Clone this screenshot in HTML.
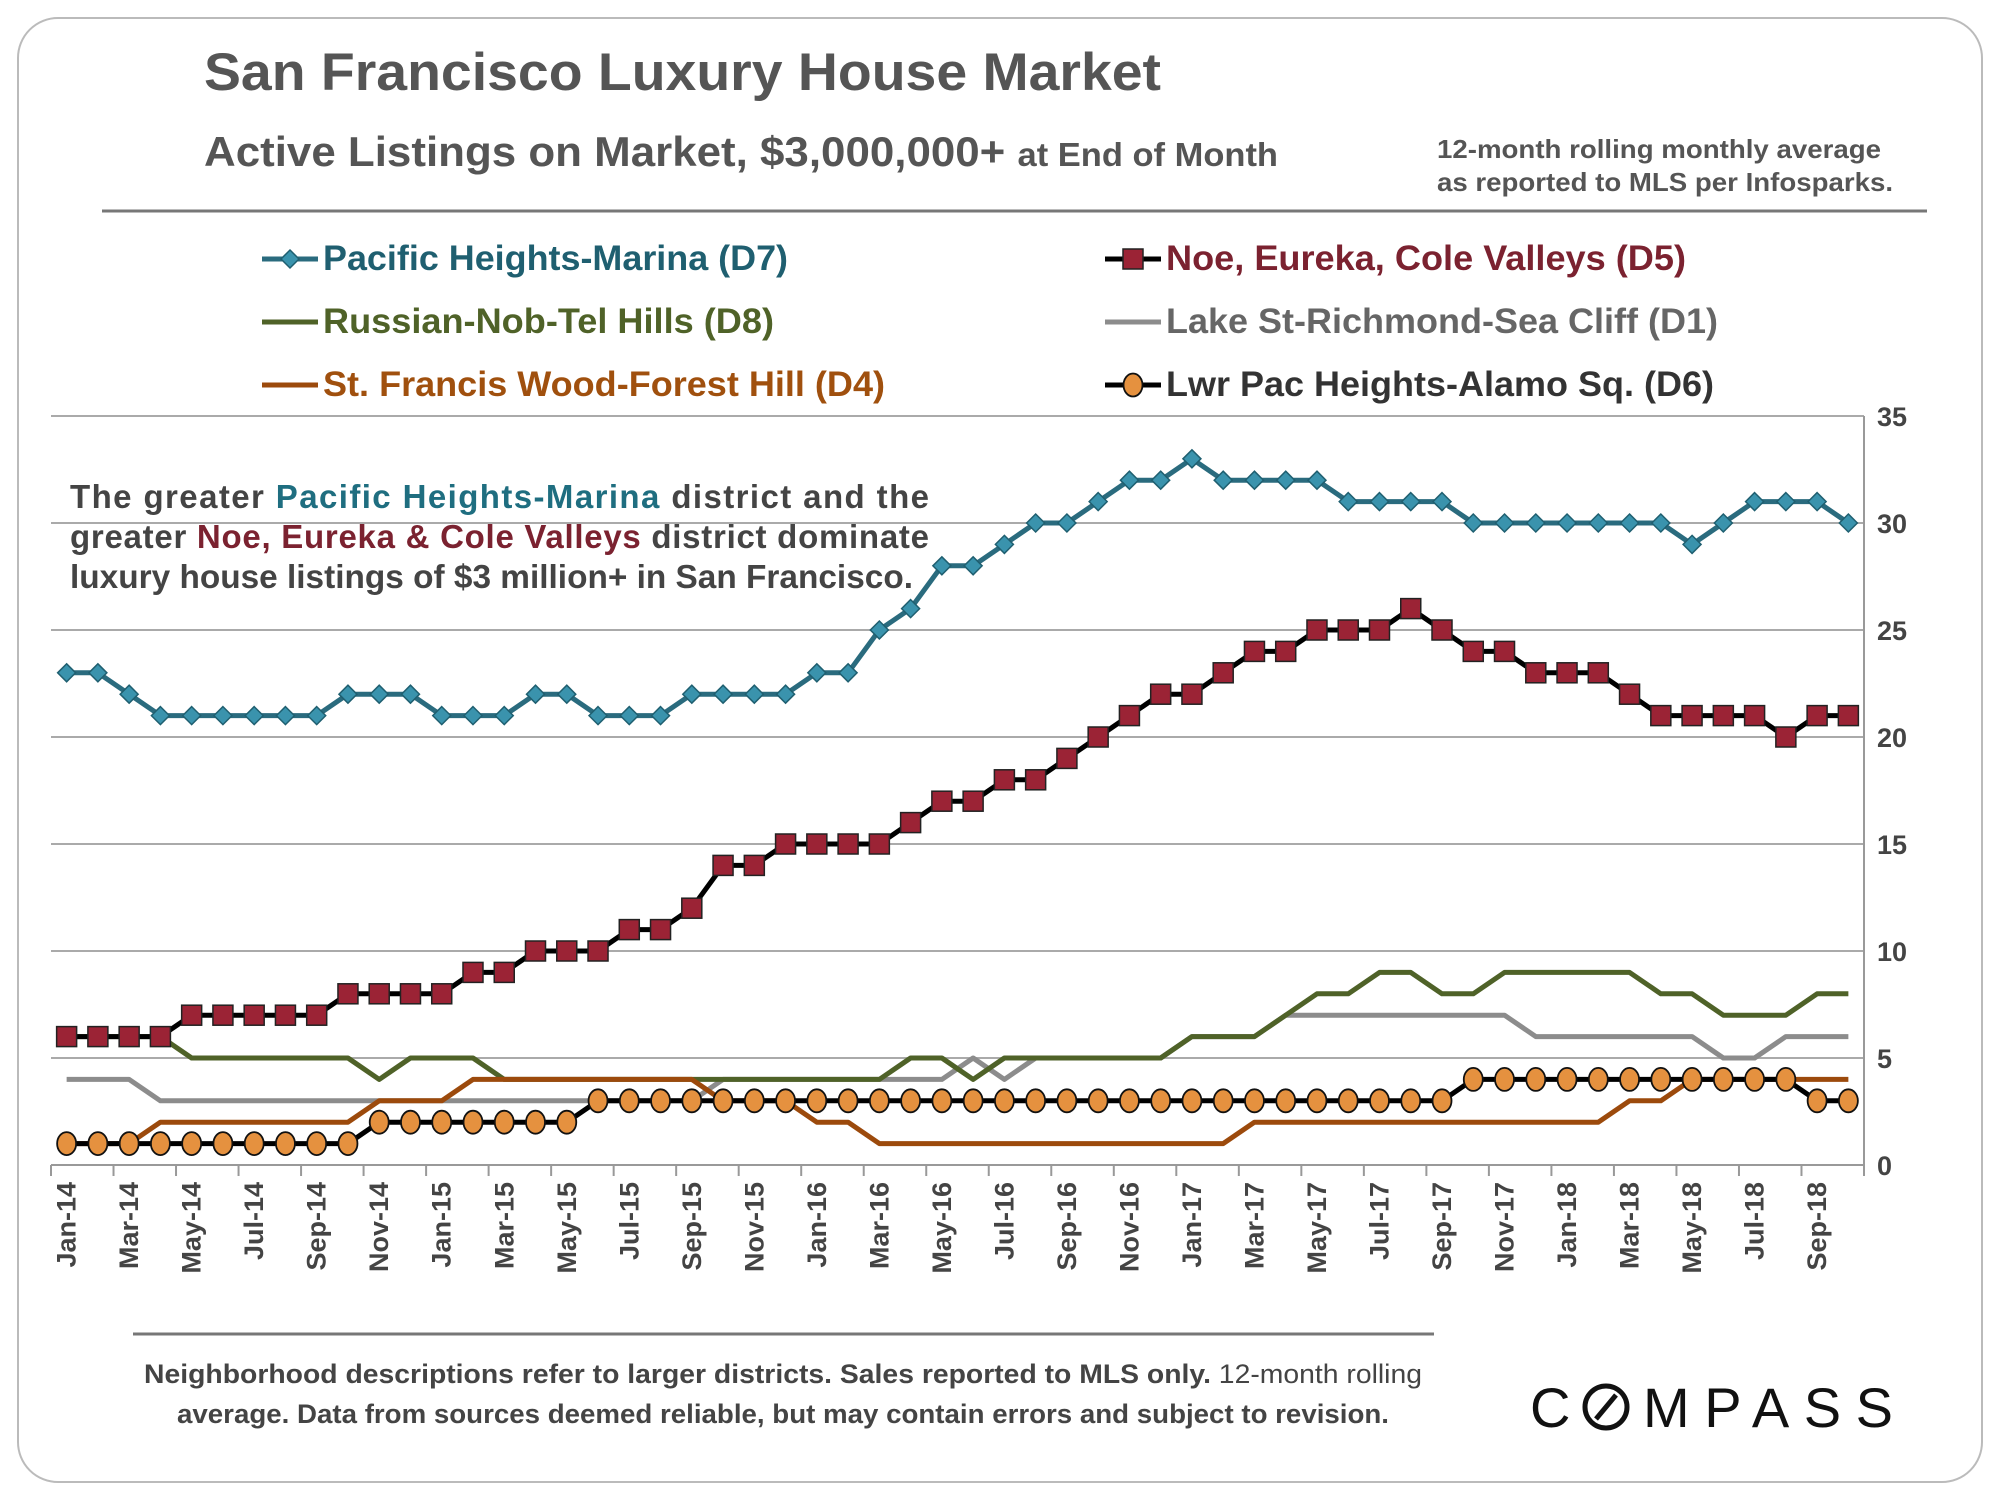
<!DOCTYPE html>
<html><head><meta charset="utf-8"><style>
body{margin:0;background:#fff;}
svg text{font-family:"Liberation Sans",Arial,sans-serif;font-weight:bold;}
svg text.norm, svg tspan.norm{font-weight:normal;}
</style></head><body>
<svg id="chart" width="2000" height="1500" viewBox="0 0 2000 1500" xmlns="http://www.w3.org/2000/svg">
<rect x="18" y="18" width="1964" height="1464" rx="40" fill="#fff" stroke="#bbb" stroke-width="2"/>
<text x="204" y="90" font-size="53" fill="#555" textLength="957" lengthAdjust="spacingAndGlyphs">San Francisco Luxury House Market</text>
<text x="204" y="166" font-size="42" fill="#555" textLength="1074" lengthAdjust="spacingAndGlyphs">Active Listings on Market, $3,000,000+ <tspan font-size="33">at End of Month</tspan></text>
<text x="1437" y="158" font-size="26" fill="#555" textLength="444" lengthAdjust="spacingAndGlyphs">12-month rolling monthly average</text>
<text x="1437" y="191" font-size="26" fill="#555" textLength="456" lengthAdjust="spacingAndGlyphs">as reported to MLS per Infosparks.</text>
<line x1="102" y1="211" x2="1927" y2="211" stroke="#777" stroke-width="3"/>
<g id="legend"></g>
<g id="grid"></g>
<g id="axes"></g>
<g id="series"></g>
<g font-size="33" fill="#444">
<text x="70" y="508" textLength="859" lengthAdjust="spacing">The greater <tspan fill="#1f6e80">Pacific Heights-Marina</tspan> district and the</text>
<text x="70" y="548" textLength="859" lengthAdjust="spacing">greater <tspan fill="#7b2230">Noe, Eureka &amp; Cole Valleys</tspan> district dominate</text>
<text x="70" y="588" textLength="843" lengthAdjust="spacingAndGlyphs">luxury house listings of $3 million+ in San Francisco.</text>
</g>
<line x1="133" y1="1334" x2="1434" y2="1334" stroke="#777" stroke-width="3"/>
<text x="144" y="1383" font-size="27" fill="#444" textLength="1278" lengthAdjust="spacingAndGlyphs">Neighborhood descriptions refer to larger districts.  Sales reported to MLS only. <tspan class="norm">12-month rolling</tspan></text>
<text x="177" y="1423" font-size="27" fill="#444" textLength="1212" lengthAdjust="spacingAndGlyphs">average. Data from sources deemed reliable, but may contain errors and subject to revision.</text>
<g>
<text x="1530" y="1427" font-size="56" fill="#111" class="norm" textLength="363" lengthAdjust="spacing">C<tspan fill="#fff">O</tspan>MPASS</text>
<circle cx="1606" cy="1407" r="21" fill="#fff" stroke="#111" stroke-width="5"/>
<line x1="1596" y1="1419" x2="1616" y2="1395" stroke="#111" stroke-width="5"/>
</g>
</svg>
<script>
const months = [];
const monNames = ["Jan","Feb","Mar","Apr","May","Jun","Jul","Aug","Sep","Oct","Nov","Dec"];
for (let y = 14; y <= 18; y++) for (let m = 0; m < 12; m++) { if (y === 18 && m > 9) break; months.push(monNames[m] + "-" + y); }
const d7 = [23,23,22,21,21,21,21,21,21,22,22,22, 21,21,21,22,22,21,21,21,22,22,22,22, 23,23,25,26,28,28,29,30,30,31,32,32, 33,32,32,32,32,31,31,31,31,30,30,30, 30,30,30,30,29,30,31,31,31,30];
const d5 = [6,6,6,6,7,7,7,7,7,8,8,8, 8,9,9,10,10,10,11,11,12,14,14,15, 15,15,15,16,17,17,18,18,19,20,21,22, 22,23,24,24,25,25,25,26,25,24,24,23, 23,23,22,21,21,21,21,20,21,21];
const d8 = [6,6,6,6,5,5,5,5,5,5,4,5, 5,5,4,4,4,4,4,4,4,4,4,4, 4,4,4,5,5,4,5,5,5,5,5,5, 6,6,6,7,8,8,9,9,8,8,9,9, 9,9,9,8,8,7,7,7,8,8];
const d1 = [4,4,4,3,3,3,3,3,3,3,3,3, 3,3,3,3,3,3,3,3,3,4,4,4, 4,4,4,4,4,5,4,5,5,5,5,5, 6,6,6,7,7,7,7,7,7,7,7,6, 6,6,6,6,6,5,5,6,6,6];
const d4 = [1,1,1,2,2,2,2,2,2,2,3,3, 3,4,4,4,4,4,4,4,4,3,3,3, 2,2,1,1,1,1,1,1,1,1,1,1, 1,1,2,2,2,2,2,2,2,2,2,2, 2,2,3,3,4,4,4,4,4,4];
const d6 = [1,1,1,1,1,1,1,1,1,1,2,2, 2,2,2,2,2,3,3,3,3,3,3,3, 3,3,3,3,3,3,3,3,3,3,3,3, 3,3,3,3,3,3,3,3,3,4,4,4, 4,4,4,4,4,4,4,4,3,3];
const yTicks = [0,5,10,15,20,25,30,35];

const NS = "http://www.w3.org/2000/svg";
const L = 51, R = 1864, T = 416, B = 1165, YMAX = 35;
const step = (R - L) / months.length;
const xS = i => L + (i + 0.5) * step;
const yS = v => B - v / YMAX * (B - T);
function mk(tag, attrs, parent) { const e = document.createElementNS(NS, tag); for (const k in attrs) e.setAttribute(k, attrs[k]); parent.appendChild(e); return e; }

const grid = document.getElementById("grid"), axes = document.getElementById("axes"), ser = document.getElementById("series"), leg = document.getElementById("legend");
yTicks.forEach(t => {
  const ln = mk("line", {x1: L, x2: R, y1: yS(t), y2: yS(t), stroke: t === 0 ? "#999" : "#aaa", "stroke-width": 2}, grid);
  
  
  const tx = mk("text", {x: 1877, y: yS(t) + 10, "font-size": 27, fill: "#444"}, axes);
  tx.textContent = t;
  
  
});
const ya = mk("line", {x1: R, x2: R, y1: T, y2: B + 8, stroke: "#999", "stroke-width": 2}, axes);


for (let i = 0; i <= months.length; i += 2) {
  const tk = mk("line", {x1: L + i * step, x2: L + i * step, y1: B, y2: B + 11, stroke: "#999", "stroke-width": 2}, axes);
  
  
}
months.forEach((m, i) => {
  if (i % 2) return;
  const x = xS(i) + 9, y = 1182;
  const tx = mk("text", {x: x, y: y, "font-size": 27, fill: "#444", "text-anchor": "end", transform: `rotate(-90 ${x} ${y})`}, axes);
  tx.textContent = m;
  
  
});

function line(data, color, name) {
  const p = mk("polyline", {points: data.map((v, i) => xS(i) + "," + yS(v)).join(" "), fill: "none", stroke: color, "stroke-width": 5, "stroke-linejoin": "round"}, ser);
  
  
}
function marker(kind, x, y, g) {
  let e;
  if (kind === "diamond") e = mk("polygon", {points: `${x},${y-9} ${x+9},${y} ${x},${y+9} ${x-9},${y}`, fill: "#3a93ad", stroke: "#1f5f70", "stroke-width": 1.5}, g);
  else if (kind === "square") e = mk("rect", {x: x - 10, y: y - 10, width: 20, height: 20, fill: "#9b2335", stroke: "#222", "stroke-width": 1.5}, g);
  else e = mk("ellipse", {cx: x, cy: y, rx: 9.5, ry: 11.5, fill: "#e5913f", stroke: "#111", "stroke-width": 1.8}, g);
  return e;
}
function pts(data, kind, name) {
  data.forEach((v, i) => {
    const e = marker(kind, xS(i), yS(v), ser);
    
    
  });
}
line(d1, "#8c8c8c", "series-d1-line");
line(d8, "#4f6228", "series-d8-line");
line(d4, "#9c4a0c", "series-d4-line");
line(d6, "#000", "series-d6-line"); pts(d6, "circle", "point-d6");
line(d5, "#000", "series-d5-line"); pts(d5, "square", "point-d5");
line(d7, "#2a6b7e", "series-d7-line"); pts(d7, "diamond", "point-d7");

const legendItems = [
  {x: 262, y: 270, w: 465, label: "Pacific Heights-Marina (D7)", color: "#1f5f70", line: "#2a6b7e", mk: "diamond"},
  {x: 262, y: 333, w: 451, label: "Russian-Nob-Tel Hills (D8)", color: "#4f6228", line: "#4f6228", mk: null},
  {x: 262, y: 396, w: 562, label: "St. Francis Wood-Forest Hill (D4)", color: "#a0500e", line: "#9c4a0c", mk: null},
  {x: 1105, y: 270, w: 520, label: "Noe, Eureka, Cole Valleys (D5)", color: "#7b2230", line: "#000", mk: "square"},
  {x: 1105, y: 333, w: 552, label: "Lake St-Richmond-Sea Cliff (D1)", color: "#666", line: "#8c8c8c", mk: null},
  {x: 1105, y: 396, w: 548, label: "Lwr Pac Heights-Alamo Sq. (D6)", color: "#333", line: "#000", mk: "circle"}
];
legendItems.forEach(it => {
  const g = mk("g", {}, leg);
  
  
  mk("line", {x1: it.x, x2: it.x + 56, y1: it.y - 11, y2: it.y - 11, stroke: it.line, "stroke-width": 5}, g);
  if (it.mk) marker(it.mk, it.x + 28, it.y - 11, g);
  const t = mk("text", {x: it.x + 61, y: it.y, "font-size": 35, fill: it.color, textLength: it.w, lengthAdjust: "spacingAndGlyphs"}, g);
  t.textContent = it.label;
});
</script>
</body></html>
